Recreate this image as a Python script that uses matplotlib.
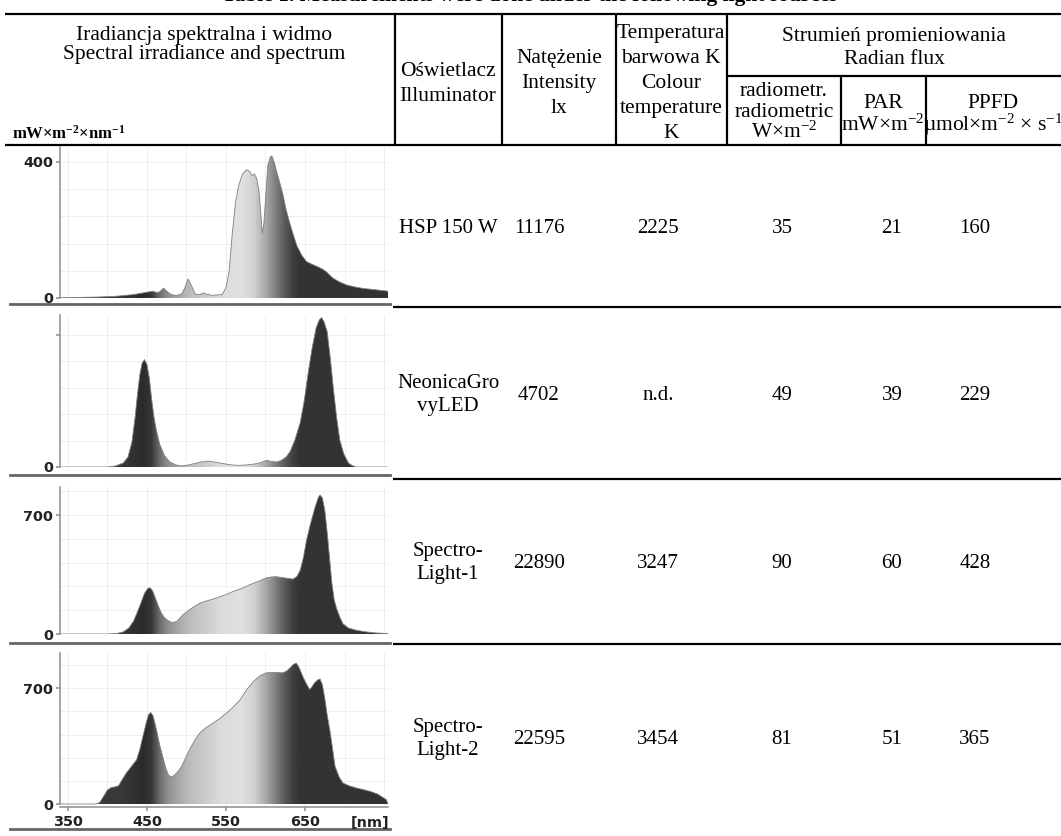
import numpy as np
import matplotlib.pyplot as plt

plt.rcParams["font.family"] = ["Liberation Serif", "DejaVu Serif"]
plt.rcParams["mathtext.default"] = "regular"

W, H = 1061, 836

# table values
illuminators = ["HSP 150 W", "NeonicaGro\nvyLED", "Spectro-\nLight-1", "Spectro-\nLight-2"]
intensity_lx = ["11176", "4702", "22890", "22595"]
colour_temp_k = ["2225", "n.d.", "3247", "3454"]
radiometric = ["35", "49", "90", "81"]
par = ["21", "39", "60", "51"]
ppfd = ["160", "229", "428", "365"]

# spectra (nm, mW m-2 nm-1)
hsp_nm = [340, 344, 370, 390, 410, 433, 450, 458, 462, 466, 471, 476, 481, 487, 494,
          498, 502, 506, 511, 517, 521, 526, 532, 545, 550, 554, 558, 562, 566, 571,
          576, 580, 583, 586, 589, 592, 594, 596, 598, 600, 603, 606, 608, 611, 614,
          618, 622, 626, 631, 636, 640, 646, 652, 658, 665, 672, 677, 681, 685, 693,
          703, 714, 724, 740, 755]
hsp_val = [0, 1, 2, 3, 5, 10, 17, 20, 16, 18, 29, 18, 10, 7, 12,
           30, 56, 38, 12, 10, 15, 11, 8, 10, 30, 80, 190, 280, 330, 365,
           377, 372, 360, 365, 350, 310, 250, 190, 220, 290, 390, 415, 418, 400, 372,
           340, 305, 260, 218, 180, 152, 125, 107, 100, 93, 85, 77, 68, 59, 48,
           38, 32, 28, 24, 20]

neonica_nm = [340, 400, 410, 420, 426, 431, 435, 438, 441, 444, 447, 450, 453, 456, 459,
              462, 466, 472, 479, 487, 494, 502, 509, 518, 528, 538, 547, 558, 568, 579,
              589, 596, 601, 607, 614, 620, 626, 631, 637, 644, 649, 654, 659, 664, 668,
              671, 674, 678, 682, 686, 690, 694, 699, 705, 710, 715, 755]
neonica_val = [0, 0, 3, 12, 30, 75, 150, 220, 280, 315, 325, 310, 270, 205, 150,
               110, 70, 35, 15, 6, 3, 6, 10, 15, 18, 14, 10, 6, 5, 7,
               10, 15, 20, 17, 15, 20, 30, 46, 80, 135, 200, 285, 360, 420, 445,
               452, 440, 410, 330, 235, 150, 82, 40, 12, 4, 0, 0]

sl1_nm = [340, 400, 412, 420, 427, 433, 438, 443, 447, 451, 454, 457, 460, 464, 468,
          472, 477, 482, 488, 496, 506, 517, 528, 538, 549, 559, 570, 580, 591, 601,
          608, 614, 624, 635, 640, 644, 648, 652, 657, 663, 667, 669, 672, 675, 678,
          681, 684, 687, 690, 694, 698, 705, 715, 728, 740, 755]
sl1_val = [0, 0, 3, 12, 35, 75, 130, 190, 240, 268, 272, 255, 220, 170, 125,
           97, 78, 66, 75, 115, 150, 182, 198, 212, 230, 250, 268, 290, 310, 330,
           336, 337, 330, 323, 340, 376, 450, 553, 650, 750, 805, 818, 800, 730, 600,
           450, 300, 200, 150, 100, 60, 35, 22, 12, 6, 3]

sl2_nm = [340, 385, 390, 395, 400, 405, 410, 414, 419, 424, 430, 437, 441, 445, 449,
          452, 455, 458, 462, 466, 471, 474, 477, 480, 483, 488, 494, 500, 505, 511,
          517, 525, 534, 543, 551, 560, 568, 576, 585, 593, 601, 612, 622, 627, 631,
          635, 639, 643, 648, 652, 656, 659, 662, 666, 669, 672, 675, 678, 682, 685,
          688, 693, 698, 706, 715, 724, 732, 742, 753, 755]
sl2_val = [0, 0, 8, 45, 85, 100, 104, 110, 150, 188, 225, 268, 330, 409, 490,
           540, 553, 530, 450, 360, 268, 215, 177, 165, 167, 190, 228, 290, 339, 390,
           430, 463, 490, 520, 551, 590, 631, 690, 742, 775, 793, 795, 793, 805, 823,
           843, 853, 820, 762, 725, 692, 710, 732, 750, 756, 720, 641, 540, 430, 330,
           228, 165, 127, 110, 97, 87, 77, 60, 26, 0]

spectra = [(hsp_nm, hsp_val), (neonica_nm, neonica_val), (sl1_nm, sl1_val), (sl2_nm, sl2_val)]
y_ticks = [[0, 400], [0, 400], [0, 700], [0, 700]]
y_tick_labels = [["0", "400"], ["0", ""], ["0", "700"], ["0", "700"]]
x_ticks = [350, 450, 550, 650]

# styling / layout
XLIM = (340, 755)
Y_LIMS = [(0, 444), (0, 460), (0, 865), (-18, 913)]
GRID_STEPS = [80, 80, 140, 140]
PANEL_BOXES = [(60, 388, 147, 298), (60, 388, 315, 467), (60, 388, 487, 634), (60, 388, 653, 807)]
SHADE_NM = [340, 420, 445, 455, 465, 475, 490, 505, 525, 545, 570, 585, 595, 605, 615, 625, 635, 645, 755]
SHADE_GRAY = [0.25, 0.22, 0.17, 0.21, 0.40, 0.55, 0.66, 0.74, 0.80, 0.86, 0.88, 0.82, 0.72,
              0.60, 0.47, 0.35, 0.25, 0.20, 0.20]

HEAD_SIZE = 15.5
BODY_SIZE = 15
LINE_KW = dict(color="black", lw=1.6, solid_capstyle="butt")


def px_box(x0, x1, top, bottom):
    return [x0 / W, 1 - bottom / H, (x1 - x0) / W, (bottom - top) / H]


def put_lines(ax, lines, x, y_center, spacing, size, **kw):
    n = len(lines)
    for i, line in enumerate(lines):
        y = y_center + (i - (n - 1) / 2) * spacing + 0.33 * size * 1.389
        ax.text(x, y, line, ha="center", va="baseline", fontsize=size, **kw)


def draw_table(ax):
    ax.plot([5, W], [14, 14], **LINE_KW)
    ax.plot([5, W], [145, 145], **LINE_KW)
    for x in [395, 502, 616, 727]:
        ax.plot([x, x], [14, 145], **LINE_KW)
    ax.plot([727, W], [76, 76], **LINE_KW)
    for x in [841, 926]:
        ax.plot([x, x], [76, 145], **LINE_KW)
    for y in [307, 479, 644]:
        ax.plot([393, W], [y, y], **LINE_KW)
    for y in [304, 475, 643, 829]:
        ax.plot([10, 390], [y, y], color="0.4", lw=2)

    # caption of the table, cut off by the top edge as in the source
    ax.text(530, 1, "Table 1. Measurements were done under the following light sources",
            ha="center", va="baseline", fontsize=HEAD_SIZE, fontweight="bold")

    put_lines(ax, ["Iradiancja spektralna i widmo", "Spectral irradiance and spectrum"],
              204, 42, 19, HEAD_SIZE)
    ax.text(12, 139, r"mW×m$^{-2}$×nm$^{-1}$", ha="left", va="baseline",
            fontsize=12, fontweight="bold")
    put_lines(ax, ["Oświetlacz", "Illuminator"], 448, 81, 25, HEAD_SIZE)
    put_lines(ax, ["Natężenie", "Intensity", "lx"], 559, 81, 25, HEAD_SIZE)
    put_lines(ax, ["Temperatura", "barwowa K", "Colour", "temperature", "K"],
              671, 81, 25, HEAD_SIZE)
    put_lines(ax, ["Strumień promieniowania", "Radian flux"], 894, 45, 23, HEAD_SIZE)
    put_lines(ax, ["radiometr.", "radiometric", r"W×m$^{-2}$"], 784, 110, 21, HEAD_SIZE)
    put_lines(ax, ["PAR", r"mW×m$^{-2}$"], 883, 112, 23, HEAD_SIZE)
    put_lines(ax, ["PPFD", r"µmol×m$^{-2}$ × s$^{-1}$"], 993, 112, 23, HEAD_SIZE)

    row_centers = [226, 393, 561, 737]
    columns = [(448, illuminators), (539, intensity_lx), (658, colour_temp_k),
               (782, radiometric), (892, par), (975, ppfd)]
    for x, values in columns:
        for y, value in zip(row_centers, values):
            put_lines(ax, value.split("\n"), x, y, 23, BODY_SIZE)

    ax.text(370, 827, "[nm]", ha="center", va="baseline", fontsize=10.4,
            fontweight="bold", family="DejaVu Sans", color="#222")


def draw_spectrum(fig, box, nm, values, ylim, step, ticks, tick_labels, show_x):
    ax = fig.add_axes(px_box(*box))
    nm = np.asarray(nm, dtype=float)
    values = np.asarray(values, dtype=float)

    for g in np.arange(350, XLIM[1], 50):
        ax.axvline(g, color="#ededed", lw=0.6, zorder=0)
    for g in np.arange(step, ylim[1], step):
        ax.axhline(g, color="#ededed", lw=0.6, zorder=0)

    grid_nm = np.linspace(XLIM[0], XLIM[1], 800)
    shade = np.interp(grid_nm, SHADE_NM, SHADE_GRAY)
    poly = ax.fill_between(nm, values, 0, color="none", lw=0)
    im = ax.imshow(np.vstack([shade, shade]), cmap="gray", vmin=0, vmax=1,
                   aspect="auto", interpolation="bilinear", origin="lower",
                   extent=[XLIM[0], XLIM[1], 0, ylim[1]], zorder=2)
    im.set_clip_path(poly.get_paths()[0], transform=ax.transData)
    ax.plot(nm, values, color="0.5", lw=0.6, zorder=3)

    ax.set_xlim(*XLIM)
    ax.set_ylim(*ylim)
    for side in ["top", "right"]:
        ax.spines[side].set_visible(False)
    ax.spines["left"].set_color("#8c8c8c")
    ax.spines["left"].set_linewidth(1.1)
    ax.spines["left"].set_bounds(0, ylim[1])
    tick_font = dict(fontfamily="DejaVu Sans", fontweight="bold", fontsize=10.4, color="#222")
    ax.set_yticks(ticks, tick_labels, **tick_font)
    ax.tick_params(axis="y", length=3, width=1.1, color="#8c8c8c", pad=2)
    if show_x:
        ax.spines["bottom"].set_color("#8c8c8c")
        ax.spines["bottom"].set_linewidth(1.1)
        ax.set_xticks(x_ticks, [str(t) for t in x_ticks], **tick_font)
        ax.tick_params(axis="x", length=3, width=1.1, color="#8c8c8c", pad=3)
    else:
        ax.spines["bottom"].set_visible(False)
        ax.set_xticks([])
    return ax


fig = plt.figure(figsize=(W / 100, H / 100), dpi=100)
base = fig.add_axes([0, 0, 1, 1])
base.set_xlim(0, W)
base.set_ylim(H, 0)
base.axis("off")
draw_table(base)

for i, (nm, values) in enumerate(spectra):
    draw_spectrum(fig, PANEL_BOXES[i], nm, values, Y_LIMS[i], GRID_STEPS[i],
                  y_ticks[i], y_tick_labels[i], show_x=(i == 3))

fig.savefig("out.png", dpi=100)
